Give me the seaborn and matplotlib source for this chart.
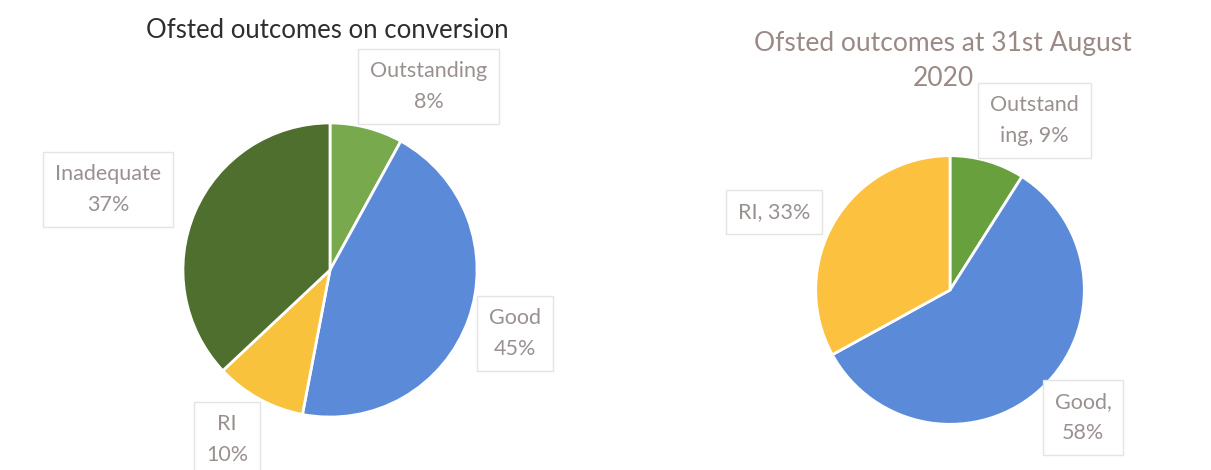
import numpy as np
import matplotlib.pyplot as plt
import seaborn as sns

# === data ===================================================================
left_title = "Ofsted outcomes on conversion"
left_cats = ["Outstanding", "Good", "RI", "Inadequate"]
left_vals = [8, 45, 10, 37]
left_labels = ["Outstanding\n8%", "Good\n45%", "RI\n10%", "Inadequate\n37%"]

right_title = "Ofsted outcomes at 31st August\n2020"
right_cats = ["Outstanding", "Good", "RI"]
right_vals = [9, 58, 33]
right_labels = ["Outstand\ning, 9%", "Good,\n58%", "RI, 33%"]

# === style ==================================================================
sns.set_theme(style="white")
plt.rcParams['font.family'] = ['Lato', 'DejaVu Sans']

colors = {"Outstanding": "#78a94c", "Good": "#5b8bd8", "RI": "#f9c23c",
          "Inadequate": "#4e6f2e"}
colors_right = {"Outstanding": "#67a03c", "Good": "#5b8bd8", "RI": "#fbc13f"}

fig = plt.figure(figsize=(12.11, 4.70), dpi=100)
W, H = 1211, 470


def pie_axes(cx, cy, r):
    # axes placed in pixel space so the pie sits where it should
    return fig.add_axes([(cx - r) / W, (H - cy - r) / H, 2 * r / W, 2 * r / H])


def draw(ax, vals, cats, pal, labels, label_pos):
    ax.pie(vals, colors=[pal[c] for c in cats], startangle=90, counterclock=False,
           radius=1, wedgeprops=dict(edgecolor="white", linewidth=2))
    ax.set_xlim(-1.02, 1.02)
    ax.set_ylim(-1.02, 1.02)
    ax.set_aspect("equal")
    ax.axis("off")
    for txt, (x, y) in zip(labels, label_pos):
        ax.text(x, y, txt, ha="center", va="center", fontsize=15.5, color="#9a9090",
                linespacing=1.7, clip_on=False,
                bbox=dict(boxstyle="square,pad=0.55", fc="white", ec="#e4e4e4", lw=1))


# left pie
ax1 = pie_axes(330, 270, 150)
draw(ax1, left_vals, left_cats, colors, left_labels,
     [(0.67, 1.25), (1.26, -0.43), (-0.70, -1.15), (-1.51, 0.55)])
fig.text(327 / W, 1 - 30 / H, left_title, ha="center", va="center",
         fontsize=18.5, color="#2e2e2e")

# right pie
ax2 = pie_axes(950, 290, 137)
draw(ax2, right_vals, right_cats, colors_right, right_labels,
     [(0.63, 1.26), (0.99, -0.95), (-1.31, 0.58)])
fig.text(943 / W, 1 - 61 / H, right_title, ha="center", va="center",
         fontsize=19, color="#9a8a85", linespacing=1.5)

plt.savefig("out.png", dpi=100)
